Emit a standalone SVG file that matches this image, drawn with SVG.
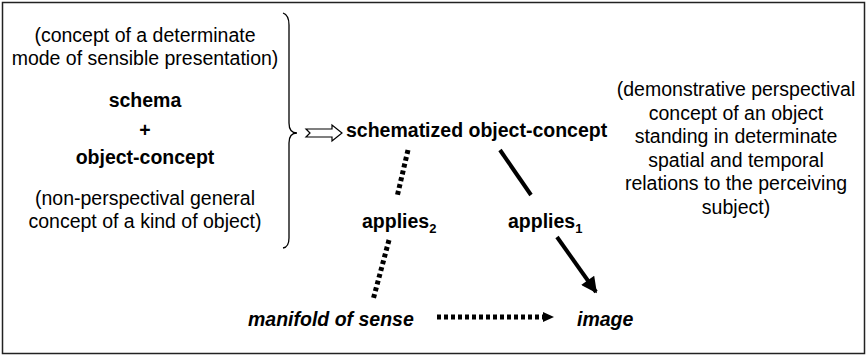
<svg xmlns="http://www.w3.org/2000/svg" width="868" height="356" viewBox="0 0 868 356">
  <style>
    text { font-family: "Liberation Sans", Arial, Helvetica, sans-serif; font-size: 19.5px; fill: #000; }
    .b { font-weight: bold; }
    .bi { font-weight: bold; font-style: italic; }
    .c { text-anchor: middle; }
    .sub { font-size: 13px; }
    .solid { stroke: #000; stroke-width: 4; fill: none; }
    .dash { stroke: #000; stroke-width: 5; fill: none; stroke-dasharray: 4 3; }
  </style>
  <defs>
    <marker id="headSolid" viewBox="0 0 10 10" refX="9" refY="5" markerWidth="4.5" markerHeight="4" markerUnits="strokeWidth" orient="auto">
      <path d="M0,0 L10,5 L0,10 Z" fill="#000"/>
    </marker>
  </defs>

  <!-- outer frame -->
  <rect x="2.5" y="2.5" width="862" height="351" fill="#fff" stroke="#222" stroke-width="1.5"/>

  <!-- left block: schema + object-concept -->
  <g id="schema-block">
    <text class="c" x="145" y="42">(concept of a determinate</text>
    <text class="c" x="145" y="65">mode of sensible presentation)</text>
    <text class="c b" x="145" y="107">schema</text>
    <text class="c b" x="145" y="137">+</text>
    <text class="c b" x="145" y="164">object-concept</text>
    <text class="c" x="145" y="205">(non-perspectival general</text>
    <text class="c" x="145" y="228">concept of a kind of object)</text>
  </g>

  <!-- curly brace grouping the left block -->
  <g id="brace">
    <path d="M283,13 Q289,15 289,25 L289,123 Q289,133 297,133 Q289,133 289,143 L289,238 Q289,247 283,248" fill="none" stroke="#000" stroke-width="1.3"/>
  </g>

  <!-- hollow notched arrow -->
  <g id="implies-arrow">
    <path d="M306,129 L332,129 L332,125 L342,133 L332,141 L332,137 L306,137 L310,133 Z" fill="#fff" stroke="#000" stroke-width="1.2" stroke-linejoin="miter"/>
  </g>

  <g id="schematized-object-concept">
    <text class="b" x="346" y="137">schematized object-concept</text>
  </g>

  <g id="perspectival-note">
    <text class="c" x="736" y="96">(demonstrative perspectival</text>
    <text class="c" x="736" y="119.5">concept of an object</text>
    <text class="c" x="736" y="143">standing in determinate</text>
    <text class="c" x="736" y="166.5">spatial and temporal</text>
    <text class="c" x="736" y="190">relations to the perceiving</text>
    <text class="c" x="736" y="213.5">subject)</text>
  </g>

  <g id="manifold">
    <text class="bi" x="248" y="326">manifold of sense</text>
  </g>

  <g id="image">
    <text class="bi" x="577" y="326">image</text>
  </g>

  <!-- connectors -->
  <g id="connectors">
    <!-- applies2 (dotted, no head) -->
    <line class="dash" x1="408" y1="150" x2="397" y2="197"/>
    <line class="dash" x1="389" y1="240" x2="373" y2="300"/>
    <!-- applies1 (solid, arrow) -->
    <line class="solid" x1="500" y1="150" x2="531" y2="195"/>
    <line class="solid" x1="557" y1="237" x2="596" y2="292" marker-end="url(#headSolid)"/>
    <!-- manifold -> image (dotted, arrow) -->
    <line class="dash" x1="437" y1="317" x2="545" y2="317"/>
    <path d="M543,312 L554,317 L543,322 Z" fill="#000"/>
  </g>

  <g id="labels">
    <text class="b" x="362" y="228">applies<tspan class="sub" dy="5">2</tspan></text>
    <text class="b" x="508" y="228">applies<tspan class="sub" dy="5">1</tspan></text>
  </g>
</svg>
